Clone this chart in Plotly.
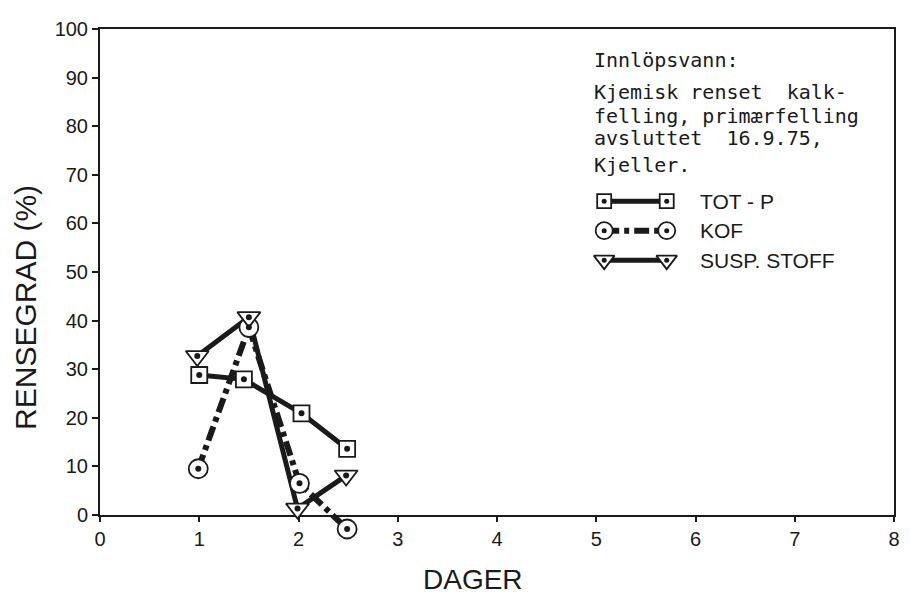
import plotly.graph_objects as go

# ---- data ----
days_tot = [1.0, 1.45, 2.03, 2.49]
tot_p = [28.8, 27.9, 20.9, 13.6]

days_kof = [0.99, 1.5, 2.01, 2.49]
kof = [9.5, 38.6, 6.5, -2.9]

days_susp = [0.98, 1.5, 1.99, 2.48]
susp = [32.7, 40.7, 1.3, 8.1]

series_names = ["TOT - P", "KOF", "SUSP. STOFF"]
x_ticks = [0, 1, 2, 3, 4, 5, 6, 7, 8]
y_ticks = [0, 10, 20, 30, 40, 50, 60, 70, 80, 90, 100]

note_lines = ["Innlöpsvann:", "Kjemisk renset  kalk-", "felling, primærfelling",
              "avsluttet  16.9.75,", "Kjeller."]

# ---- geometry / styles ----
W, H = 902, 595            # page body has an 8px margin
ML, MR, MT, MB = 92, 10, 12, 32
PW = W - ML - MR
PH = H - MT - MB
Y0_FIG = 506               # figure-pixel row of y = 0
Y100_FIG = MT
PX_PER_UNIT = (Y0_FIG - Y100_FIG) / 100.0
D0 = (H - MB - Y0_FIG) / PH
Y3_MIN = -(H - MB - Y0_FIG) / PX_PER_UNIT


def paper_x(sx):
    return (sx - 8 - ML) / PW


def paper_y(sy):
    return (H - MB - (sy - 8)) / PH


SANS = "Liberation Sans, Arial, sans-serif"
MONO = "DejaVu Sans Mono, monospace"
INK = "#1a1a1a"

styles = [
    dict(x=days_tot, y=tot_p, symbol="square", size=16, dash="solid", width=5),
    dict(x=days_kof, y=kof, symbol="circle", size=19, dash="15px,5px,5px,5px", width=6),
    dict(x=days_susp, y=susp, symbol="triangle-down", size=20, dash="solid", width=5),
]

fig = go.Figure()

# invisible trace so that the framed x/y subplot exists
fig.add_trace(go.Scatter(x=days_tot, y=tot_p, xaxis="x", yaxis="y", mode="markers",
                         marker=dict(opacity=0), showlegend=False, hoverinfo="skip"))

# lines
for st in styles:
    fig.add_trace(go.Scatter(x=st["x"], y=st["y"], xaxis="x", yaxis="y3", mode="lines",
                             line=dict(color=INK, width=st["width"], dash=st["dash"]),
                             showlegend=False, hoverinfo="skip"))
# open markers
for st in styles:
    fig.add_trace(go.Scatter(x=st["x"], y=st["y"], xaxis="x", yaxis="y3", mode="markers",
                             marker=dict(symbol=st["symbol"], size=st["size"], color="white",
                                         line=dict(color=INK, width=1.8)),
                             showlegend=False))
# centre dots
for st in styles:
    fig.add_trace(go.Scatter(x=st["x"], y=st["y"], xaxis="x", yaxis="y3", mode="markers",
                             marker=dict(symbol="circle", size=6, color=INK),
                             showlegend=False, hoverinfo="skip"))

# ---- hand-made legend on a screen-pixel overlay axis ----
leg_rows = [195, 225, 255]
leg_x0, leg_x1 = 608, 671
for st, name, ly in zip(styles, series_names, leg_rows):
    fig.add_trace(go.Scatter(x=[leg_x0, leg_x1], y=[ly, ly], xaxis="x2", yaxis="y2",
                             mode="lines", line=dict(color=INK, width=st["width"], dash=st["dash"]),
                             showlegend=False, hoverinfo="skip"))
    fig.add_trace(go.Scatter(x=[leg_x0, leg_x1], y=[ly, ly], xaxis="x2", yaxis="y2",
                             mode="markers",
                             marker=dict(symbol=st["symbol"], size=st["size"] - 2, color="white",
                                         line=dict(color=INK, width=1.8)),
                             showlegend=False, hoverinfo="skip"))
    fig.add_trace(go.Scatter(x=[leg_x0, leg_x1], y=[ly, ly], xaxis="x2", yaxis="y2",
                             mode="markers", marker=dict(symbol="circle", size=5, color=INK),
                             showlegend=False, hoverinfo="skip"))
    fig.add_annotation(x=paper_x(703), y=paper_y(ly), xref="paper", yref="paper", text=name,
                       showarrow=False, xanchor="left", yanchor="middle",
                       font=dict(family=SANS, size=21, color=INK))

note_y = [52, 84, 108, 131, 158]
for txt, ny in zip(note_lines, note_y):
    fig.add_annotation(x=paper_x(596), y=paper_y(ny), xref="paper", yref="paper", text=txt,
                       showarrow=False, xanchor="left", yanchor="middle",
                       font=dict(family=MONO, size=20, color=INK))

# axis titles
fig.add_annotation(x=paper_x(25), y=paper_y(303), xref="paper", yref="paper",
                   text="RENSEGRAD (%)", showarrow=False, textangle=-90,
                   xanchor="center", yanchor="middle",
                   font=dict(family=SANS, size=30, color=INK))
fig.add_annotation(x=paper_x(476), y=paper_y(580), xref="paper", yref="paper",
                   text="DAGER", showarrow=False, xanchor="center", yanchor="middle",
                   font=dict(family=SANS, size=28, color=INK))

fig.update_layout(
    width=W, height=H,
    margin=dict(l=ML, r=MR, t=MT, b=MB),
    paper_bgcolor="white", plot_bgcolor="rgba(0,0,0,0)",
    showlegend=False,
    xaxis=dict(range=[0, 8], tickvals=x_ticks, ticktext=[str(v) for v in x_ticks],
               anchor="y", domain=[0, 1],
               showgrid=False, zeroline=False, showline=True, mirror=True,
               linecolor=INK, linewidth=2, ticks="outside", ticklen=5, tickwidth=1.5,
               tickcolor=INK, tickfont=dict(family=SANS, size=20, color=INK)),
    yaxis=dict(range=[0, 100], domain=[D0, 1], anchor="x", tickvals=y_ticks,
               ticktext=[str(v) for v in y_ticks],
               showgrid=False, zeroline=False, showline=True, mirror=True,
               linecolor=INK, linewidth=2, ticks="outside", ticklen=6, tickwidth=1.5,
               tickcolor=INK, tickfont=dict(family=SANS, size=20, color=INK)),
    yaxis3=dict(range=[Y3_MIN, 100], domain=[0, 1], anchor="x", visible=False,
                showgrid=False, zeroline=False),
    xaxis2=dict(range=[100, 900], overlaying="x", anchor="y2", visible=False),
    yaxis2=dict(range=[514, 20], overlaying="y", anchor="x2", visible=False),
)

fig.write_html("out.html")
